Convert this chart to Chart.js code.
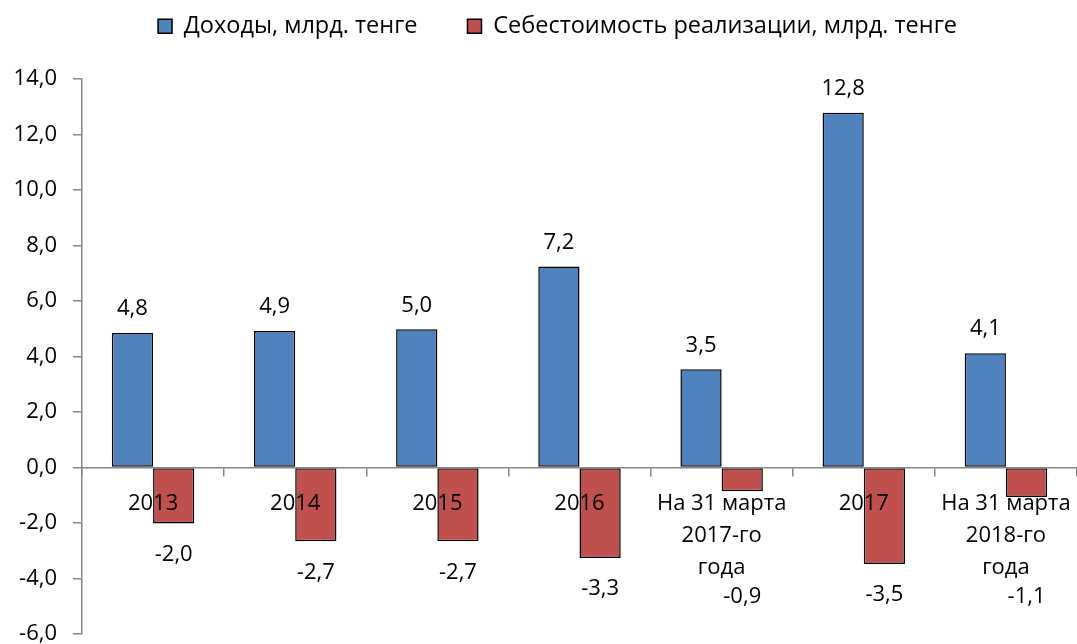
<!DOCTYPE html>
<html><head><meta charset="utf-8">
<script src="https://cdn.jsdelivr.net/npm/chart.js@4/dist/chart.umd.min.js"></script>
<style>html,body{margin:0;padding:0;background:#fff}</style>
</head><body>
<canvas id="c" width="1077" height="644"></canvas>
<script>
const categories = ['2013', '2014', '2015', '2016', ['На 31 марта', '2017-го', 'года'], '2017', ['На 31 марта', '2018-го', 'года']];
const incomeValues = [4.85, 4.92, 4.98, 7.24, 3.54, 12.78, 4.12];
const costValues = [-2.02, -2.66, -2.66, -3.26, -0.86, -3.48, -1.06];
const seriesNames = ['Доходы, млрд. тенге', 'Себестоимость реализации, млрд. тенге'];
const yMin = -6, yMax = 14, yStep = 2;

const FONT = '"Open Sans", "DejaVu Sans", sans-serif';
const fmt = v => v.toFixed(1).replace('.', ',');

const legendShift = {
  id: 'legendShift',
  afterLayout(chart) {
    const lg = chart.legend;
    if (!lg) return;
    lg.top -= 31; lg.bottom -= 31;
    lg.left += 18; lg.right += 18;
  }
};

const valueLabels = {
  id: 'valueLabels',
  afterDraw(chart) {
    const ctx = chart.ctx;
    const yScale = chart.scales.y;
    const zeroY = yScale.getPixelForValue(0);
    ctx.save();
    ctx.font = '22px ' + FONT;
    ctx.fillStyle = '#000';
    ctx.textAlign = 'center';
    ctx.textBaseline = 'middle';
    chart.data.datasets.forEach((ds, di) => {
      const meta = chart.getDatasetMeta(di);
      meta.data.forEach((bar, i) => {
        const v = ds.data[i];
        let y;
        if (v >= 0) {
          y = bar.y - 24;
        } else {
          y = bar.y + 31;
          if (Array.isArray(categories[i])) y = Math.max(y, zeroY + 129);
        }
        ctx.fillText(fmt(v), bar.x, y);
      });
    });
    ctx.restore();
  }
};

new Chart(document.getElementById('c'), {
  type: 'bar',
  data: {
    labels: categories,
    datasets: [
      { label: seriesNames[0], data: incomeValues, backgroundColor: '#4F81BD', borderColor: '#000', borderWidth: 1.5, borderSkipped: false },
      { label: seriesNames[1], data: costValues, backgroundColor: '#C0504D', borderColor: '#000', borderWidth: 1.5, borderSkipped: false }
    ]
  },
  options: {
    responsive: false,
    animation: false,
    devicePixelRatio: 1,
    layout: { padding: { top: -10, left: 0, right: -2, bottom: 0 } },
    datasets: { bar: { categoryPercentage: 0.58, barPercentage: 1 } },
    plugins: {
      legend: {
        position: 'top',
        labels: {
          font: { family: FONT, size: 23.5 },
          color: '#000',
          boxWidth: 14,
          boxHeight: 14,
          padding: 50
        }
      },
      tooltip: { enabled: false }
    },
    scales: {
      x: {
        position: { y: 0 },
        afterFit(scale) { scale.paddingLeft = 0; scale.paddingRight = 0; },
        grid: { display: true, drawOnChartArea: false, drawTicks: true, tickLength: 8, color: '#868686', lineWidth: 1.5, offset: true, z: 1 },
        border: { display: true, color: '#868686', width: 1.5, z: 1 },
        ticks: { color: '#000', font: { family: FONT, size: 22, lineHeight: 1.46 }, padding: 12, maxRotation: 0, autoSkip: false, z: 1 }
      },
      y: {
        min: yMin, max: yMax,
        afterFit(scale) { scale.width = 82; scale.paddingTop = 79; scale.paddingBottom = 10; },
        grid: { display: true, drawOnChartArea: false, drawTicks: true, tickLength: 9, color: '#868686', lineWidth: 1.5 },
        border: { display: true, color: '#868686', width: 1.5 },
        ticks: { stepSize: yStep, color: '#000', font: { family: FONT, size: 22 }, padding: 16, callback: v => fmt(v) }
      }
    }
  },
  plugins: [legendShift, valueLabels]
});
</script>
</body></html>
